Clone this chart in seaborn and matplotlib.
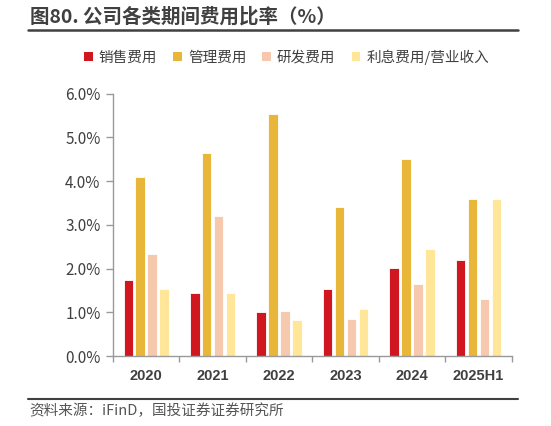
import matplotlib
matplotlib.use("Agg")
import matplotlib.pyplot as plt
import seaborn as sns
import pandas as pd
import numpy as np
from matplotlib.ticker import FuncFormatter, FixedLocator
from matplotlib.lines import Line2D
from matplotlib.patches import Patch

years = ["2020", "2021", "2022", "2023", "2024", "2025H1"]
series = ["销售费用", "管理费用", "研发费用", "利息费用/营业收入"]
sales = [1.75, 1.44, 1.01, 1.53, 2.01, 2.19]
admin = [4.09, 4.64, 5.53, 3.40, 4.51, 3.59]
rnd = [2.34, 3.21, 1.03, 0.85, 1.64, 1.31]
interest = [1.54, 1.43, 0.83, 1.07, 2.45, 3.60]
colors = ["#D0161E", "#E8B73A", "#F6C9AE", "#FFE699"]
yticks = [0.0, 1.0, 2.0, 3.0, 4.0, 5.0, 6.0]

sns.set_style("white")
plt.rcParams['font.family'] = ['Noto Sans CJK SC', 'DejaVu Sans']

rows = []
for name, vals in zip(series, [sales, admin, rnd, interest]):
    for y, v in zip(years, vals):
        rows.append({"year": y, "series": name, "value": v})
df = pd.DataFrame(rows)

fig = plt.figure(figsize=(5.51, 4.26), dpi=100)
ax = fig.add_axes([0.2051, 0.1643, 0.7236, 0.6157])
sns.barplot(data=df, x="year", y="value", hue="series", order=years,
            hue_order=series, palette=colors, saturation=1, width=0.72, gap=0.2,
            edgecolor="white", linewidth=0.6, ax=ax, legend=False)

ax.set_ylim(0, 6.0)
ax.set_xlim(-0.5, len(years) - 0.5)
ax.set_yticks(yticks)
ax.yaxis.set_major_formatter(FuncFormatter(lambda v, p: f"{v:.1f}%"))
ax.set_xlabel("")
ax.set_ylabel("")
for s in ["top", "right"]:
    ax.spines[s].set_visible(False)
for s in ["left", "bottom"]:
    ax.spines[s].set_color("#999999")
    ax.spines[s].set_linewidth(1.0)
ax.tick_params(axis="y", which="major", length=5, width=1, color="#999999",
               labelsize=11, labelcolor="#404040", direction="out", left=True, pad=4)
ax.tick_params(axis="x", which="major", length=0, pad=9)
ax.xaxis.set_minor_locator(FixedLocator(np.arange(-0.5, len(years), 1.0)))
ax.tick_params(axis="x", which="minor", length=4, width=1, color="#999999",
               direction="out", bottom=True)
for lab in ax.get_xticklabels():
    lab.set_fontfamily(["Liberation Sans", "DejaVu Sans"])
    lab.set_fontweight("bold")
    lab.set_fontsize(10.5)
    lab.set_color("#404040")

handles = [Patch(facecolor=c, edgecolor="none") for c in colors]
fig.legend(handles, series, loc="center", bbox_to_anchor=(0.52, 0.866), ncol=4,
           frameon=False, fontsize=10.5, handlelength=0.6, handleheight=0.6,
           handletextpad=0.4, columnspacing=1.1, labelcolor="#404040")

fig.text(0.054, 0.962, "图80. 公司各类期间费用比率（%）", fontsize=14,
         fontweight="bold", color="#404040", va="center", ha="left")
fig.add_artist(Line2D([0.051, 0.94], [0.93, 0.93], color="#404040", linewidth=1.8))
fig.add_artist(Line2D([0.051, 0.94], [0.063, 0.063], color="#404040", linewidth=1.5))
fig.text(0.054, 0.035, "资料来源：iFinD，国投证券证券研究所", fontsize=10.5,
         style="italic", color="#555555", va="center", ha="left")

fig.savefig("out.png", dpi=100)
